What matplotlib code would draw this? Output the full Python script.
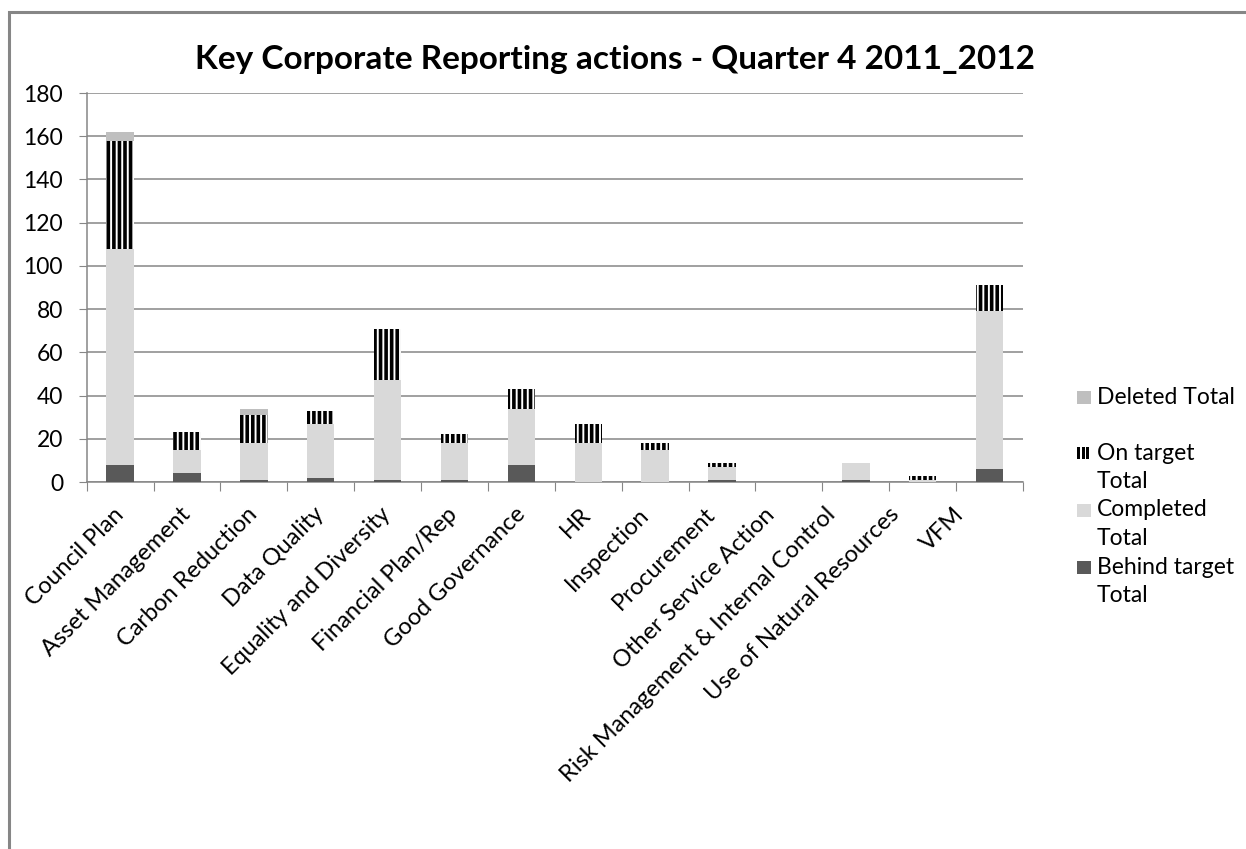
import matplotlib
matplotlib.use("Agg")
import matplotlib.pyplot as plt
from matplotlib.patches import Rectangle
import matplotlib.transforms as mtransforms
import numpy as np

categories = ["Council Plan", "Asset Management", "Carbon Reduction", "Data Quality",
              "Equality and Diversity", "Financial Plan/Rep", "Good Governance", "HR",
              "Inspection", "Procurement", "Other Service Action",
              "Risk Management & Internal Control", "Use of Natural Resources", "VFM"]
behind = [8, 4, 1, 2, 1, 1, 8, 0, 0, 1, 0, 1, 0, 6]
completed = [100, 11, 17, 25, 46, 17, 26, 18, 15, 6, 0, 8, 1, 73]
on_target = [50, 8, 13, 6, 24, 4, 9, 9, 3, 2, 0, 0, 2, 12]
deleted = [4, 0, 3, 0, 0, 0, 0, 0, 0, 0, 0, 0, 0, 0]
yticks = [0, 20, 40, 60, 80, 100, 120, 140, 160, 180]

FONT = "Lato"
GRID = "#868686"
plt.rcParams["font.family"] = [FONT, "DejaVu Sans"]
plt.rcParams["hatch.linewidth"] = 2.6

W, H = 1246, 849
fig = plt.figure(figsize=(W / 100, H / 100), dpi=100)
fig.patch.set_facecolor("white")

# outer chart border (extends beyond right/bottom edge)
fig.patches.append(Rectangle((9 / W, -0.1), 1.2, 1 - 12 / H + 0.1, transform=fig.transFigure,
                             fill=False, edgecolor=GRID, linewidth=2.2))

ax = fig.add_axes([86.7 / W, 1 - 482 / H, (1023 - 86.7) / W, (482 - 93) / H])
x = np.arange(len(categories))
b = np.array(behind, float)
c = np.array(completed, float)
o = np.array(on_target, float)
d = np.array(deleted, float)
bw = 0.41
ax.bar(x, b, bw, color="#595959", linewidth=0, zorder=3)
ax.bar(x, c, bw, bottom=b, color="#d9d9d9", linewidth=0, zorder=3)
ax.bar(x, o, bw, bottom=b + c, facecolor="white", edgecolor="black", hatch="|||",
       linewidth=0, zorder=3)
ax.bar(x, d, bw, bottom=b + c + o, color="#bfbfbf", linewidth=0, zorder=3)

ax.set_xlim(-0.5, len(categories) - 0.5)
ax.set_ylim(0, 180)
ax.set_yticks(yticks)
ax.yaxis.grid(True, color=GRID, linewidth=1.1, zorder=0)
ax.set_axisbelow(True)
for s in ["top", "right"]:
    ax.spines[s].set_visible(False)
for s in ["left", "bottom"]:
    ax.spines[s].set_color(GRID)
    ax.spines[s].set_linewidth(1.1)
ax.tick_params(axis="y", direction="out", length=6, color=GRID, labelsize=16.5, pad=11)

ax.set_xticks(np.arange(-0.5, len(categories), 1.0))
ax.set_xticklabels([])
ax.set_xticks(x, minor=True)
ax.set_xticklabels(categories, minor=True, rotation=45, ha="right", va="center",
                   rotation_mode="anchor", fontsize=17)
ax.tick_params(axis="x", which="major", direction="out", length=6.5, color=GRID)
ax.tick_params(axis="x", which="minor", length=0, pad=21)

label_dx = [0, 0, 0, 0, -1, -1, 1, -1, -10, -10, -18, -24, -27, -29]
for lab, dx in zip(ax.get_xticklabels(minor=True), label_dx):
    lab.set_transform(lab.get_transform() + mtransforms.ScaledTranslation(dx / 100, 0, fig.dpi_scale_trans))

# title
fig.text(615 / W, 1 - 59 / H, "Key Corporate Reporting actions - Quarter 4 2011_2012",
         ha="center", va="center", fontsize=24, fontweight="bold")

# legend (manual, Excel-like)
def px(xp, yp):
    return xp / W, 1 - yp / H

legend_rows = [
    ("Deleted Total", None, 397, "#bfbfbf"),
    ("On target", "Total", 453, "hatch"),
    ("Completed", "Total", 510, "#d9d9d9"),
    ("Behind target", "Total", 567, "#595959"),
]
for l1, l2, yc, col in legend_rows:
    if col == "hatch":
        for k in range(3):
            xx, yy = px(1077 + k * 4.5, yc + 6)
            fig.patches.append(Rectangle((xx, yy), 3 / W, 12 / H, transform=fig.transFigure,
                                         facecolor="black", edgecolor="none"))
    else:
        xx, yy = px(1077, yc + 6.5)
        fig.patches.append(Rectangle((xx, yy), 13.5 / W, 13 / H, transform=fig.transFigure,
                                     facecolor=col, edgecolor="none"))
    fig.text(*px(1097, yc), l1, ha="left", va="center", fontsize=16.5)
    if l2:
        fig.text(*px(1097, yc + 28.5), l2, ha="left", va="center", fontsize=16.5)

fig.savefig("out.png", dpi=100, facecolor="white")
